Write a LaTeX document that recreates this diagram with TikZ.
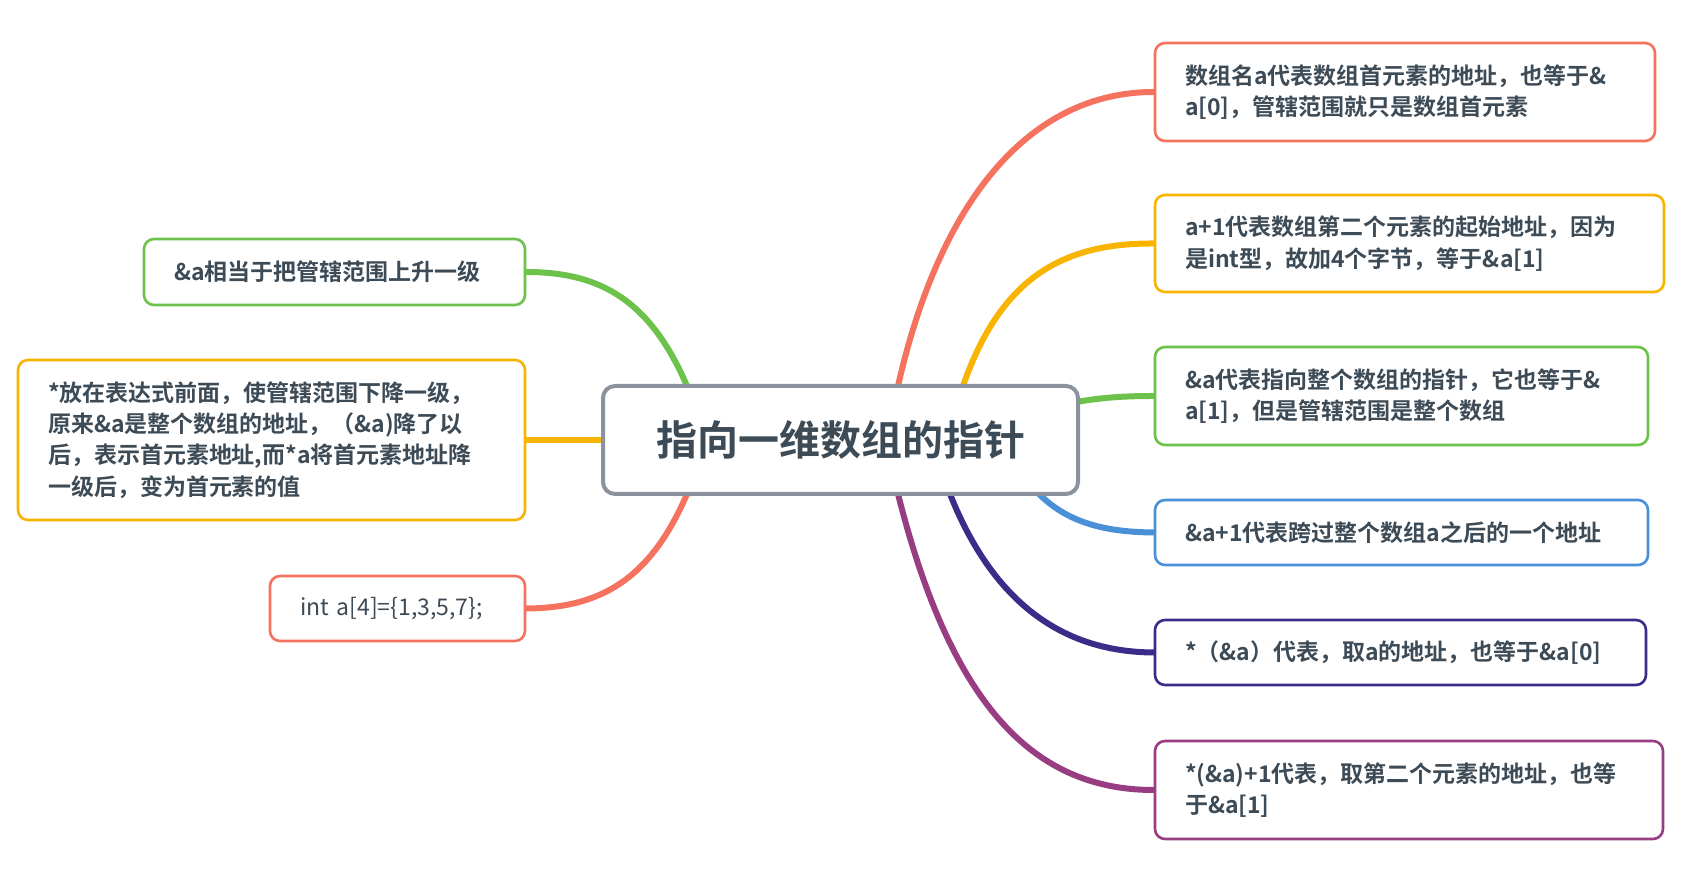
\documentclass[tikz,border=0pt]{standalone}
\usepackage{fontspec}
\setmainfont{Noto Sans CJK SC Bold}
\usetikzlibrary{backgrounds,calc}
\definecolor{cred}{HTML}{F4725E}
\definecolor{corange}{HTML}{F8B400}
\definecolor{cgreen}{HTML}{6CC24A}
\definecolor{cblue}{HTML}{4A90D9}
\definecolor{cindigo}{HTML}{3A2D8A}
\definecolor{cpurple}{HTML}{993D82}
\definecolor{cgray}{HTML}{8A939E}
\definecolor{ctext}{HTML}{3D4B57}
\tikzset{
 leaf/.style={draw=#1,line width=1.3pt,rounded corners=5pt,fill=white,text=ctext,font=\fontsize{11.5}{15.7}\selectfont,align=left,inner xsep=15pt,anchor=center},
 br/.style={draw=#1,line width=2.2pt,line cap=round},
}
\begin{document}
\begin{tikzpicture}[x=0.5pt,y=-0.5pt]
\useasboundingbox (0,0) rectangle (1688,886);
\node[draw=cgray,line width=2pt,rounded corners=6pt,fill=white,text=ctext,font=\fontsize{20.5}{24}\selectfont,minimum width=237.5pt,minimum height=54pt] (c) at (840.5,440) {指向一维数组的指针};
\node[leaf=cred,minimum width=250pt,minimum height=49pt,text width=220pt] (r1) at (1405,92) {数组名a代表数组首元素的地址，也等于\&\\a[0]，管辖范围就只是数组首元素};
\node[leaf=corange,minimum width=254.5pt,minimum height=48.5pt,text width=224.5pt] (r2) at (1409.5,243.5) {a+1代表数组第二个元素的起始地址，因为\\是int型，故加4个字节，等于\&a[1]};
\node[leaf=cgreen,minimum width=246.5pt,minimum height=49pt,text width=216.5pt] (r3) at (1401.5,396) {\&a代表指向整个数组的指针，它也等于\&\\a[1]，但是管辖范围是整个数组};
\node[leaf=cblue,minimum width=246.5pt,minimum height=32.5pt,text width=216.5pt] (r4) at (1401.5,532.5) {\&a+1代表跨过整个数组a之后的一个地址};
\node[leaf=cindigo,minimum width=245.5pt,minimum height=32.5pt,text width=215.5pt] (r5) at (1400.5,652.5) {*（\&a）代表，取a的地址，也等于\&a[0]};
\node[leaf=cpurple,minimum width=254pt,minimum height=49pt,text width=224pt] (r6) at (1409,790) {*(\&a)+1代表，取第二个元素的地址，也等\\于\&a[1]};
\node[leaf=cgreen,minimum width=190.5pt,minimum height=33pt,text width=160.5pt] (l1) at (334.5,272) {\&a相当于把管辖范围上升一级};
\node[leaf=corange,minimum width=253.5pt,minimum height=80pt,text width=223.5pt] (l2) at (271.5,440) {*放在表达式前面，使管辖范围下降一级，\\原来\&a是整个数组的地址，（\&a)降了以\\后，表示首元素地址,而*a将首元素地址降\\一级后，变为首元素的值};
\node[leaf=cred,minimum width=127.5pt,minimum height=32.5pt,text width=97.5pt,font=\fontspec{Noto Sans CJK SC}\fontsize{11.5}{15.7}\selectfont] (l3) at (397.5,608.5) {int a[4]=\{1,3,5,7\};};
\begin{scope}[on background layer]
\coordinate (s1) at (898,386); \coordinate (s2) at (963,386); \coordinate (s3) at (1076,402);
\coordinate (s4) at (1039,494); \coordinate (s5) at (950,494); \coordinate (s6) at (898,494);
\coordinate (t1) at (687,386); \coordinate (t2) at (605,440); \coordinate (t3) at (687,494);
\draw[br=cred,line width=3pt] (s1) .. controls (940,200) and (1030,92) .. (r1.west);
\draw[br=corange,line width=3pt] (s2) .. controls (1000,280) and (1060,243) .. (r2.west);
\draw[br=cgreen,line width=3pt] (s3) .. controls (1100,398) and (1120,396) .. (r3.west);
\draw[br=cblue,line width=3pt] (s4) .. controls (1070,525) and (1110,532) .. (r4.west);
\draw[br=cindigo,line width=3pt] (s5) .. controls (1000,620) and (1080,652) .. (r5.west);
\draw[br=cpurple,line width=3pt] (s6) .. controls (950,700) and (1030,790) .. (r6.west);
\draw[br=cgreen,line width=3pt] (t1) .. controls (650,300) and (600,272) .. (l1.east);
\draw[br=corange,line width=3pt] (t2) -- (l2.east);
\draw[br=cred,line width=3pt] (t3) .. controls (650,580) and (600,608) .. (l3.east);
\end{scope}
\end{tikzpicture}
\end{document}
